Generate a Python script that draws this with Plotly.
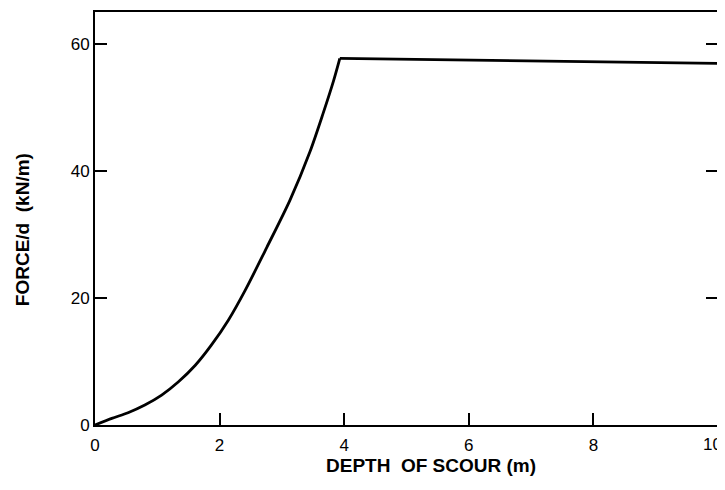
import plotly.graph_objects as go

depth = [0.0, 0.27, 0.53, 0.80, 1.07, 1.34, 1.61, 1.87, 2.14, 2.41, 2.76, 3.13, 3.45, 3.66, 3.83, 3.93, 6.0, 8.0, 10.0]
force = [0.0, 1.05, 1.93, 3.14, 4.7, 6.8, 9.4, 12.6, 16.5, 21.2, 28.0, 35.4, 43.0, 49.0, 54.2, 57.7, 57.4, 57.1, 56.9]
peak_index = 15  # position of the sharp corner (x=3.93)

x_ticks = [0, 2, 4, 6, 8, 10]
x_tick_labels = ["0", "2", "4", "6", "8", "10"]
y_ticks = [0, 20, 40, 60]

font_family = "Liberation Sans, Arial, sans-serif"

fig = go.Figure()
# rising (smooth) part
fig.add_trace(go.Scatter(
    x=depth[:peak_index + 1], y=force[:peak_index + 1], mode="lines",
    line=dict(color="black", width=2.8, shape="spline", smoothing=0.8),
    showlegend=False, hoverinfo="skip",
))
# plateau
fig.add_trace(go.Scatter(
    x=depth[peak_index:], y=force[peak_index:], mode="lines",
    line=dict(color="black", width=2.8),
    showlegend=False, hoverinfo="skip",
))

# the last x label sits at the right edge; draw it right-aligned so it stays fully visible
shown_x_labels = x_tick_labels[:-1] + [""]

fig.update_layout(
    width=717, height=482,
    margin=dict(l=87, r=7, t=4, b=65),
    paper_bgcolor="white", plot_bgcolor="white",
    font=dict(family=font_family, size=17, color="black"),
    xaxis=dict(
        range=[0, 10], tickvals=x_ticks, ticktext=shown_x_labels,
        showgrid=False, zeroline=False, automargin=False,
        showline=True, linecolor="black", linewidth=2, mirror=True,
        ticks="inside", ticklen=12, tickwidth=1.5, tickcolor="black",
        tickfont=dict(size=17), ticklabelstandoff=4,
        ticklabeloverflow="allow",
    ),
    yaxis=dict(
        range=[0, 65], tickvals=y_ticks, ticktext=[str(v) for v in y_ticks],
        showgrid=False, zeroline=False, automargin=False,
        showline=True, linecolor="black", linewidth=2, mirror="ticks",
        ticks="inside", ticklen=12, tickwidth=1.5, tickcolor="black",
        tickfont=dict(size=17),
    ),
    annotations=[
        dict(text=x_tick_labels[-1], xref="x", yref="paper",
             x=x_ticks[-1], y=0, xanchor="right", yanchor="top",
             xshift=6, yshift=-8, showarrow=False,
             font=dict(size=17, family=font_family, color="black")),
        dict(text="<b>DEPTH  OF SCOUR (m)</b>", xref="paper", yref="paper",
             x=0.539, y=-0.099, xanchor="center", yanchor="middle", showarrow=False,
             font=dict(size=19, family=font_family, color="black")),
        dict(text="<b>FORCE/d  (kN/m)</b>", xref="paper", yref="paper",
             x=-0.117, y=0.472, xanchor="center", yanchor="middle", showarrow=False,
             textangle=-90,
             font=dict(size=19, family=font_family, color="black")),
    ],
)

fig.write_html("out.html")
